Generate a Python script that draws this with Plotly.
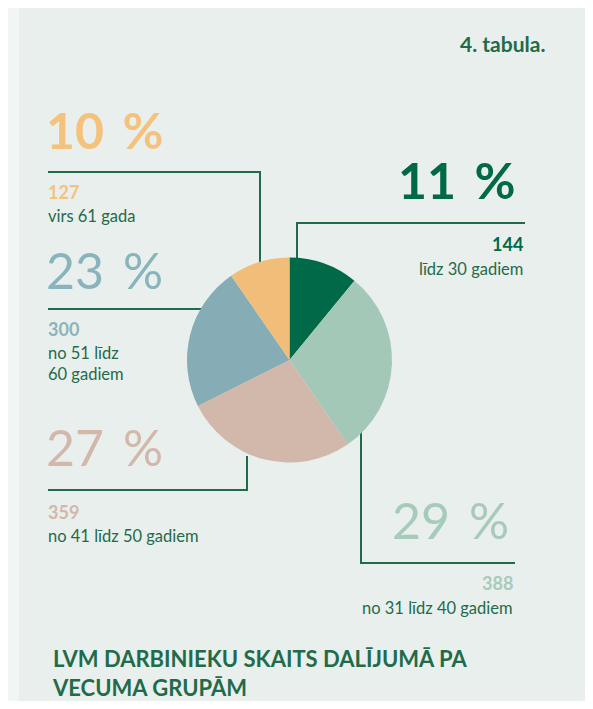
import plotly.graph_objects as go

# --- data ---
groups = ["līdz 30 gadiem", "no 31 līdz 40 gadiem", "no 41 līdz 50 gadiem",
          "no 51 līdz<br>60 gadiem", "virs 61 gada"]
counts = [144, 388, 359, 300, 127]
percents = [11, 29, 27, 23, 10]
slice_colors = ["#006A48", "#A4C8B8", "#D2B7AB", "#86ADB6", "#F0BE78"]
label_colors = ["#006A48", "#A7CBBB", "#D2B8AB", "#8AB4BB", "#F5C27E"]
title = "LVM DARBINIEKU SKAITS DALĪJUMĀ PA<br>VECUMA GRUPĀM"
table_no = "4. tabula."

W, H = 593, 709
OFF = 8  # page body margin: the figure starts 8px in
FW, FH = W - 2 * OFF, H - 2 * OFF
GREEN = "#1F6B4A"
FONT = "Lato"

# pixel placement of each label block: x, anchor, pct_x, pct_y, count_y, group_y, bold pct
label_pos = [
    (525, "right", 517, 180, 244, 269, True),
    (515, "right", 511, 520, 583, 608, False),
    (46, "left", 44, 447, 512, 536, False),
    (46, "left", 44, 270, 329, 363, False),
    (46, "left", 44, 130, 192, 216, True),
]

# connector polylines (page pixel coords)
connectors = [
    [(297, 262), (297, 223), (525, 223)],
    [(361, 428), (361, 563), (515, 563)],
    [(247, 456), (247, 490), (48, 490)],
    [(205, 309), (48, 309)],
    [(260, 266), (260, 172), (48, 172)],
]

cx, cy, r = 289.5, 360, 102.5


def fx(p):
    return (p - OFF) / FW


def fy(p):
    return (H - OFF - p) / FH


fig = go.Figure()
fig.add_trace(go.Pie(
    values=counts, labels=groups, sort=False, direction="clockwise", rotation=0,
    marker=dict(colors=slice_colors, line=dict(width=0)),
    textinfo="none", hoverinfo="label+value+percent", showlegend=False,
    domain=dict(x=[fx(cx - r), fx(cx + r)], y=[fy(cy + r), fy(cy - r)]),
))

shapes = [dict(type="rect", xref="x", yref="y", x0=19, x1=W + 5, y0=6, y1=H + 5,
               fillcolor="#E9EFEC", line=dict(width=0), layer="below")]
for pts in connectors:
    path = "M " + " L ".join(f"{x},{y}" for x, y in pts)
    shapes.append(dict(type="path", xref="x", yref="y", path=path,
                       line=dict(color=GREEN, width=2), layer="below"))

annotations = []
for i, (x, anchor, px, py, cy_, gy, bold) in enumerate(label_pos):
    pct_text = f"{percents[i]}\u2009 %"
    annotations.append(dict(x=px, y=py, text=f"<b>{pct_text}</b>" if bold else pct_text,
                            xanchor=anchor, yanchor="middle", showarrow=False,
                            font=dict(family=FONT, size=50, color=label_colors[i])))
    annotations.append(dict(x=x, y=cy_, text=f"<b>{counts[i]}</b>",
                            xanchor=anchor, yanchor="middle", showarrow=False,
                            font=dict(family=FONT, size=18, color=label_colors[i])))
    annotations.append(dict(x=x, y=gy, text=groups[i], align=anchor,
                            xanchor=anchor, yanchor="middle", showarrow=False,
                            font=dict(family=FONT, size=16.5, color=GREEN)))

annotations.append(dict(x=547, y=43, text=f"<b>{table_no}</b>", xanchor="right",
                        yanchor="middle", showarrow=False,
                        font=dict(family=FONT, size=21, color=GREEN)))
annotations.append(dict(x=50, y=673, text=f"<b>{title}</b>", xanchor="left", align="left",
                        yanchor="middle", showarrow=False,
                        font=dict(family=FONT, size=22, color=GREEN)))

fig.update_layout(
    width=FW, height=FH, margin=dict(l=0, r=0, t=0, b=0),
    paper_bgcolor="#F1F5F3", plot_bgcolor="rgba(0,0,0,0)",
    xaxis=dict(range=[OFF, W - OFF], visible=False, fixedrange=True),
    yaxis=dict(range=[H - OFF, OFF], visible=False, fixedrange=True),
    shapes=shapes, annotations=annotations,
)
for a in fig.layout.annotations:
    a.xref = "x"
    a.yref = "y"

fig.write_html("out.html")
